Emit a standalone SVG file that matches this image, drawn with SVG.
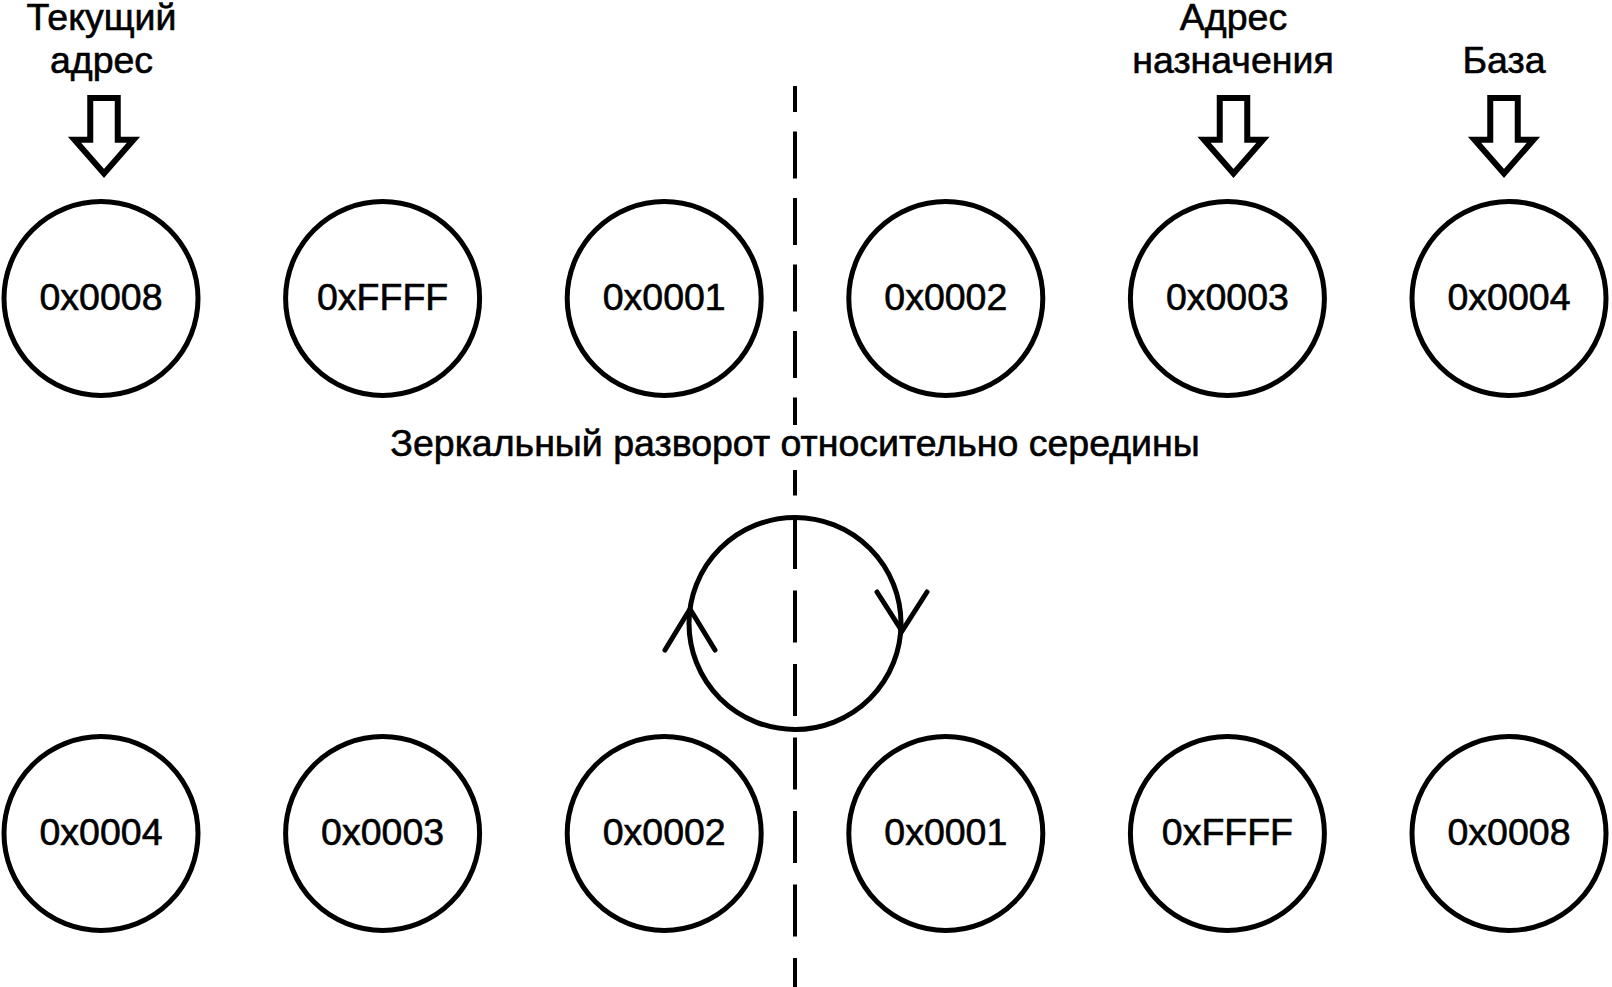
<svg xmlns="http://www.w3.org/2000/svg" width="1612" height="987" viewBox="0 0 1612 987">
<style>
.node{fill:#fff;stroke:#000;stroke-width:5}
.lbl{font-family:"Liberation Sans",Arial,sans-serif;font-size:37.5px;fill:#000;stroke:#000;stroke-width:0.6;text-anchor:middle}
.blk{fill:#fff;stroke:#000;stroke-width:6;stroke-linejoin:miter}
.dash{stroke:#000;stroke-width:4;fill:none}
.rot{fill:none;stroke:#000;stroke-width:5}
.chev{fill:none;stroke:#000;stroke-width:5;stroke-linecap:round;stroke-linejoin:miter}
</style>
<defs>
<path id="blockArrow" d="M -13.75,98 H 13.75 V 139.7 H 29.5 L 0,173.5 L -29.5,139.7 H -13.75 Z"/>
</defs>
<rect width="1612" height="987" fill="#fff"/>

<g id="connectors">
<line class="dash" x1="795" y1="86" x2="795" y2="425" stroke-dasharray="47 19.5" stroke-dashoffset="21"/>
<line class="dash" x1="795" y1="470" x2="795" y2="987" stroke-dasharray="52 21.5" stroke-dashoffset="26.5"/>
<g id="rotation">
<circle class="rot" cx="795" cy="623.5" r="106"/>
<polyline class="chev" points="665,650 690,609 715,650"/>
<polyline class="chev" points="877,592 902,631 927,592"/>
</g>
<use href="#blockArrow" class="blk" transform="translate(104,0)"/>
<use href="#blockArrow" class="blk" transform="translate(1233.5,0)"/>
<use href="#blockArrow" class="blk" transform="translate(1504,0)"/>
</g>

<g id="labels">
<text class="lbl" x="101.5" y="30">Текущий</text>
<text class="lbl" x="101.5" y="73">адрес</text>
<text class="lbl" x="1233.5" y="30">Адрес</text>
<text class="lbl" x="1233" y="73">назначения</text>
<text class="lbl" x="1504" y="73">База</text>
<text class="lbl" x="795" y="456">Зеркальный разворот относительно середины</text>
</g>

<g id="top-0"><circle class="node" cx="101" cy="298.5" r="97"/><text class="lbl" x="101" y="310">0x0008</text></g>
<g id="top-1"><circle class="node" cx="382.6" cy="298.5" r="97"/><text class="lbl" x="382.6" y="310">0xFFFF</text></g>
<g id="top-2"><circle class="node" cx="664.2" cy="298.5" r="97"/><text class="lbl" x="664.2" y="310">0x0001</text></g>
<g id="top-3"><circle class="node" cx="945.8" cy="298.5" r="97"/><text class="lbl" x="945.8" y="310">0x0002</text></g>
<g id="top-4"><circle class="node" cx="1227.4" cy="298.5" r="97"/><text class="lbl" x="1227.4" y="310">0x0003</text></g>
<g id="top-5"><circle class="node" cx="1509" cy="298.5" r="97"/><text class="lbl" x="1509" y="310">0x0004</text></g>

<g id="bot-0"><circle class="node" cx="101" cy="833.5" r="97"/><text class="lbl" x="101" y="845">0x0004</text></g>
<g id="bot-1"><circle class="node" cx="382.6" cy="833.5" r="97"/><text class="lbl" x="382.6" y="845">0x0003</text></g>
<g id="bot-2"><circle class="node" cx="664.2" cy="833.5" r="97"/><text class="lbl" x="664.2" y="845">0x0002</text></g>
<g id="bot-3"><circle class="node" cx="945.8" cy="833.5" r="97"/><text class="lbl" x="945.8" y="845">0x0001</text></g>
<g id="bot-4"><circle class="node" cx="1227.4" cy="833.5" r="97"/><text class="lbl" x="1227.4" y="845">0xFFFF</text></g>
<g id="bot-5"><circle class="node" cx="1509" cy="833.5" r="97"/><text class="lbl" x="1509" y="845">0x0008</text></g>
</svg>
